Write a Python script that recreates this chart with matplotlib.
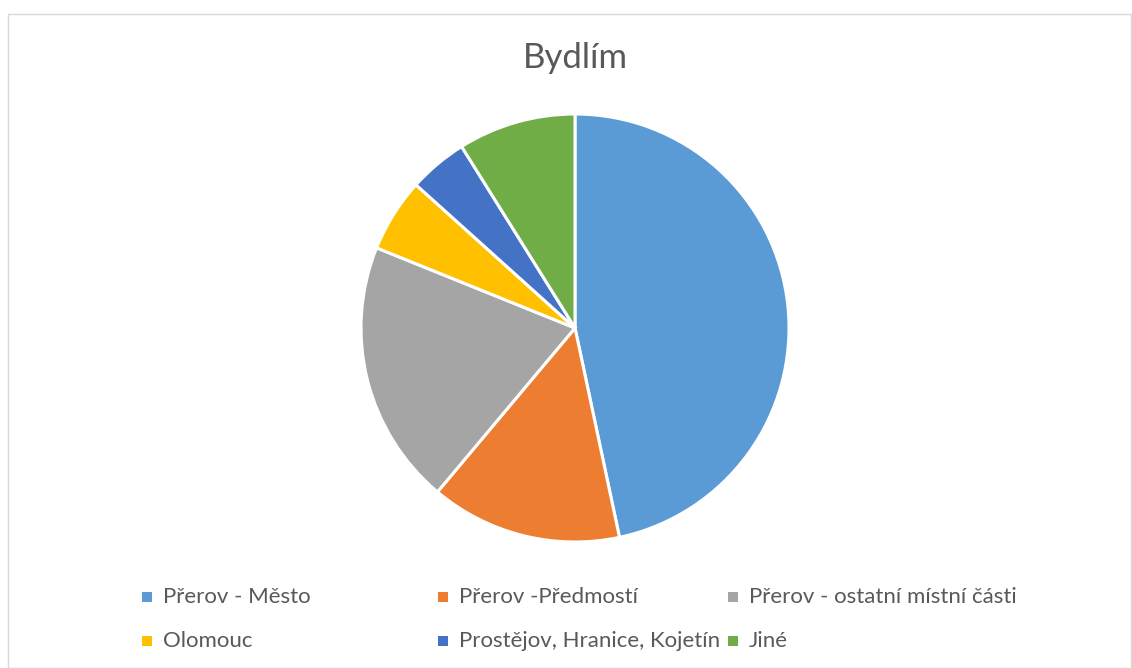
import matplotlib.pyplot as plt
from matplotlib.patches import Rectangle

# Bydlím - podíly odpovědí
labels = ['Přerov - Město', 'Přerov -Předmostí', 'Přerov - ostatní místní části',
          'Olomouc', 'Prostějov, Hranice, Kojetín', 'Jiné']
values = [42, 13, 18, 5, 4, 8]
colors = ['#5B9BD5', '#ED7D31', '#A5A5A5', '#FFC000', '#4472C4', '#70AD47']

fig = plt.figure(figsize=(11.32, 6.68), dpi=100)
plt.rcParams['font.family'] = ['Lato', 'DejaVu Sans']

# okraj grafu
fig.patches.append(Rectangle((8 / 1132, 0), 1 - 8 / 1132 - 0.0005, 1 - 14 / 668,
                             transform=fig.transFigure, fill=False,
                             edgecolor='#D9D9D9', linewidth=1))

ax = fig.add_axes([361 / 1132, 126 / 668, 428 / 1132, 428 / 668])
ax.pie(values, colors=colors, startangle=90, counterclock=False,
       wedgeprops=dict(edgecolor='white', linewidth=2.2))
ax.set_aspect('equal')
ax.set_xlim(-1.0, 1.0)
ax.set_ylim(-1.0, 1.0)

fig.text(575 / 1132, 1 - 58 / 668, 'Bydlím', ha='center', va='center',
         fontsize=25, color='#595959')

# legenda ve 3 sloupcích
col_x = [147, 443, 733]
row_y = [597, 641]
for i, (lab, c) in enumerate(zip(labels, colors)):
    x = col_x[i % 3]
    y = row_y[i // 3]
    fig.patches.append(Rectangle(((x - 5) / 1132, 1 - (y + 5) / 668), 10 / 1132, 10 / 668,
                                 transform=fig.transFigure, facecolor=c, edgecolor='none'))
    fig.text((x + 16) / 1132, 1 - y / 668, lab, ha='left', va='center',
             fontsize=16, color='#595959')

fig.savefig('out.png', dpi=100)
